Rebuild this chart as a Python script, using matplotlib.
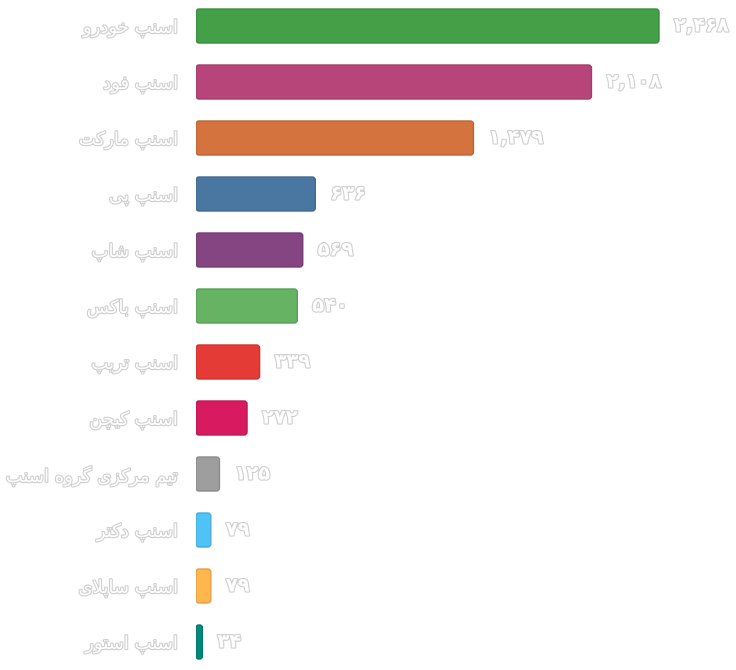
import matplotlib
matplotlib.use("Agg")
import matplotlib.pyplot as plt
import matplotlib.patheffects as pe
from matplotlib.colors import to_rgb
from matplotlib.patches import FancyBboxPatch

# data, top to bottom
labels = [
    "اسنپ خودرو", "اسنپ فود", "اسنپ مارکت", "اسنپ پی", "اسنپ شاپ", "اسنپ باکس",
    "اسنپ تریپ", "اسنپ کیچن", "تیم مرکزی گروه اسنپ", "اسنپ دکتر", "اسنپ ساپلای", "اسنپ استور",
]
values = [2468, 2108, 1479, 636, 569, 540, 339, 272, 125, 79, 79, 34]
colors = ["#43A047", "#B8457A", "#D4733D", "#4A77A1", "#844582", "#66B364",
          "#E53B36", "#D81B60", "#9E9E9E", "#4FC3F7", "#FFB74D", "#00897B"]

# minimal arabic shaping (matplotlib has no complex text layout)
FORMS = {
    "ا": ("\uFE8D", "\uFE8E", None, None),
    "ب": ("\uFE8F", "\uFE90", "\uFE91", "\uFE92"),
    "ت": ("\uFE95", "\uFE96", "\uFE97", "\uFE98"),
    "خ": ("\uFEA5", "\uFEA6", "\uFEA7", "\uFEA8"),
    "د": ("\uFEA9", "\uFEAA", None, None),
    "ر": ("\uFEAD", "\uFEAE", None, None),
    "ز": ("\uFEAF", "\uFEB0", None, None),
    "س": ("\uFEB1", "\uFEB2", "\uFEB3", "\uFEB4"),
    "ش": ("\uFEB5", "\uFEB6", "\uFEB7", "\uFEB8"),
    "ف": ("\uFED1", "\uFED2", "\uFED3", "\uFED4"),
    "ل": ("\uFEDD", "\uFEDE", "\uFEDF", "\uFEE0"),
    "م": ("\uFEE1", "\uFEE2", "\uFEE3", "\uFEE4"),
    "ن": ("\uFEE5", "\uFEE6", "\uFEE7", "\uFEE8"),
    "ه": ("\uFEE9", "\uFEEA", "\uFEEB", "\uFEEC"),
    "و": ("\uFEED", "\uFEEE", None, None),
    "پ": ("\uFB56", "\uFB57", "\uFB58", "\uFB59"),
    "چ": ("\uFB7A", "\uFB7B", "\uFB7C", "\uFB7D"),
    "ک": ("\uFB8E", "\uFB8F", "\uFB90", "\uFB91"),
    "گ": ("\uFB92", "\uFB93", "\uFB94", "\uFB95"),
    "ی": ("\uFBFC", "\uFBFD", "\uFBFE", "\uFBFF"),
}


def dual(c):
    return c in FORMS and FORMS[c][2] is not None


def shape(text):
    out = []
    i = 0
    n = len(text)
    while i < n:
        c = text[i]
        if c not in FORMS:
            out.append(c)
            i += 1
            continue
        prev_joins = i > 0 and dual(text[i - 1])
        if c == "ل" and i + 1 < n and text[i + 1] == "ا":
            out.append("\uFEFC" if prev_joins else "\uFEFB")
            i += 2
            continue
        next_joins = dual(c) and i + 1 < n and text[i + 1] in FORMS
        iso, fin, ini, med = FORMS[c]
        if prev_joins and next_joins:
            out.append(med)
        elif prev_joins:
            out.append(fin)
        elif next_joins:
            out.append(ini)
        else:
            out.append(iso)
        i += 1
    return "".join(reversed(out))


def fa_num(v):
    s = f"{v:,}"
    return s.translate(str.maketrans("0123456789", "۰۱۲۳۴۵۶۷۸۹"))


def darker(c, f=0.88):
    r, g, b = to_rgb(c)
    return (r * f, g * f, b * f)


outline = [pe.withStroke(linewidth=1.6, foreground="#cfcfcf")]

fig = plt.figure(figsize=(7.36, 6.70), dpi=100)
ax = fig.add_axes([196 / 736, 0, 540 / 736, 1])

ypos = list(range(len(values)))
bars = ax.barh(ypos, values, height=34 / 56, color=colors, alpha=0)

ax.set_xlim(0, 540 / (463 / 2468))
ax.set_ylim((670 - 26) / 56, -26 / 56)

# rounded bars from the barh geometry
px_x = 463 / 2468
px_y = 56
r_px = 3
for bar, col in zip(bars, colors):
    x, y = bar.get_x(), bar.get_y()
    w, h = bar.get_width(), bar.get_height()
    rr = min(r_px, w * px_x / 2 - 0.5) / px_x
    p = FancyBboxPatch((x, y), w, h,
                       boxstyle=f"round,pad=0,rounding_size={rr}",
                       mutation_aspect=(px_x / px_y),
                       facecolor=col, edgecolor=darker(col), linewidth=1.0)
    ax.add_patch(p)

for y, v in zip(ypos, values):
    ax.annotate(fa_num(v), (v, y), xytext=(15, 0), textcoords="offset pixels",
                ha="left", va="center", fontsize=14, color="white",
                fontweight="bold", path_effects=outline, clip_on=False)

ax.set_yticks(ypos)
ax.set_yticklabels([shape(t) for t in labels], fontsize=13, color="white")
for t in ax.get_yticklabels():
    t.set_path_effects(outline)
ax.tick_params(axis="y", length=0, pad=13)
ax.set_xticks([])
for s in ax.spines.values():
    s.set_visible(False)

fig.savefig("out.png", dpi=100, facecolor="white")
